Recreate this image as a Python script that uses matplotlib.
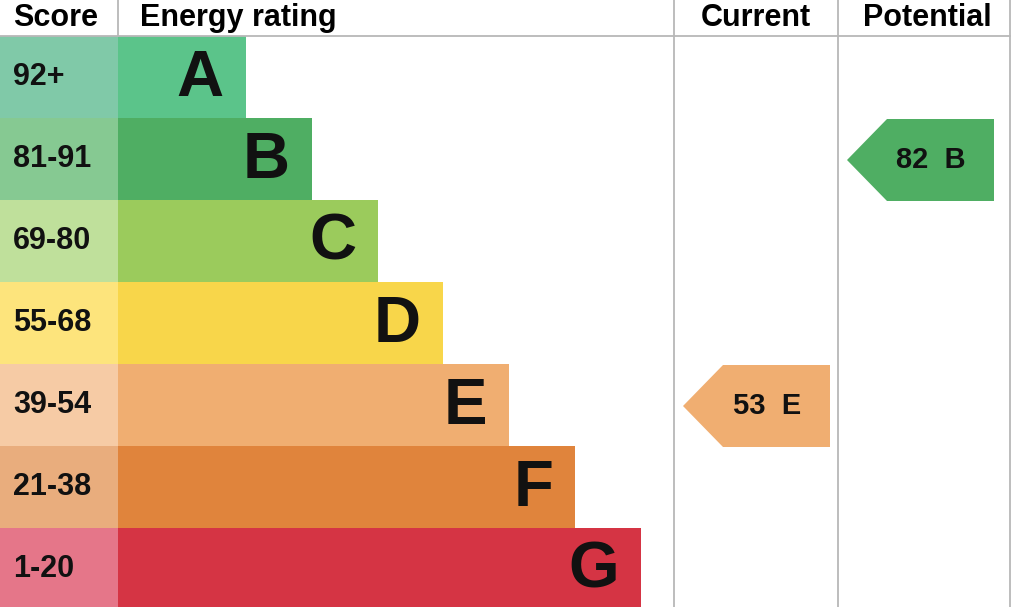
import matplotlib
matplotlib.use("Agg")
import matplotlib.pyplot as plt
from matplotlib.patches import Rectangle, Polygon

# EPC bands
bands = ['A', 'B', 'C', 'D', 'E', 'F', 'G']
score_ranges = ['92+', '81-91', '69-80', '55-68', '39-54', '21-38', '1-20']
band_low = [92, 81, 69, 55, 39, 21, 1]
bar_len = [128, 194, 260, 325, 391, 457, 523]   # bar length in px from rating column
bar_colors = ['#5bc48a', '#4fae63', '#9bcb5c', '#f8d64a', '#f0ae71', '#e0843c', '#d53444']
score_colors = ['#80c9a8', '#86c992', '#bfe09b', '#fde47c', '#f6cba5', '#e9ad7d', '#e57689']
headers = ['Score', 'Energy rating', 'Current', 'Potential']

current = 53
potential = 82

plt.rcParams['font.family'] = ['Liberation Sans', 'DejaVu Sans']

fig = plt.figure(figsize=(10.24, 6.07), dpi=100)
ax = fig.add_axes([0, 0, 1, 1])
ax.set_xlim(0, 1024)
ax.set_ylim(607, 0)
ax.axis('off')

head_h = 36
row_h = 82
x_bar = 118
x_cur = 674
x_pot = 838
x_end = 1010
grid = '#b8b8b8'
fs = 22


def band_of(score):
    for i, lo in enumerate(band_low):
        if score >= lo:
            return i
    return len(bands) - 1


for i, b in enumerate(bands):
    y0 = head_h + i * row_h
    ax.add_patch(Rectangle((0, y0), x_bar, row_h, color=score_colors[i], lw=0))
    ax.add_patch(Rectangle((x_bar, y0), bar_len[i], row_h, color=bar_colors[i], lw=0))
    ax.text(13, y0 + row_h / 2, score_ranges[i], fontsize=fs, fontweight='bold',
            ha='left', va='center', color='#111111')
    ax.text(x_bar + bar_len[i] - 22, y0 + row_h / 2 + 2, b, fontsize=47,
            fontweight='bold', ha='right', va='center', color='#111111')

# grid lines
ax.plot([0, x_end], [head_h, head_h], color=grid, lw=1.3)
ax.plot([x_bar, x_bar], [0, head_h], color=grid, lw=1.3)
for xv in (x_cur, x_pot, x_end):
    ax.plot([xv, xv], [0, 607], color=grid, lw=1.3)

# headers
ax.text(13, 18, headers[0], fontsize=fs, fontweight='bold', va='center', ha='left')
ax.text(140, 18, headers[1], fontsize=fs, fontweight='bold', va='center', ha='left')
ax.text((x_cur + x_pot) / 2, 18, headers[2], fontsize=fs, fontweight='bold',
        va='center', ha='center')
ax.text((x_pot + x_end) / 2 + 3, 18, headers[3], fontsize=fs, fontweight='bold',
        va='center', ha='center')


def arrow(x_left, score):
    i = band_of(score)
    y0 = head_h + i * row_h + 1
    h = row_h
    tip = x_left + 9
    x1 = x_left + 156
    pts = [(tip, y0 + h / 2), (tip + 40, y0), (x1, y0), (x1, y0 + h), (tip + 40, y0 + h)]
    ax.add_patch(Polygon(pts, closed=True, color=bar_colors[i], lw=0))
    ax.text(tip + 84, y0 + h / 2, f'{score}  {bands[i]}', fontsize=fs - 1,
            fontweight='bold', ha='center', va='center', color='#111111')


arrow(x_cur, current)
arrow(x_pot, potential)

fig.savefig('out.png', dpi=100)
